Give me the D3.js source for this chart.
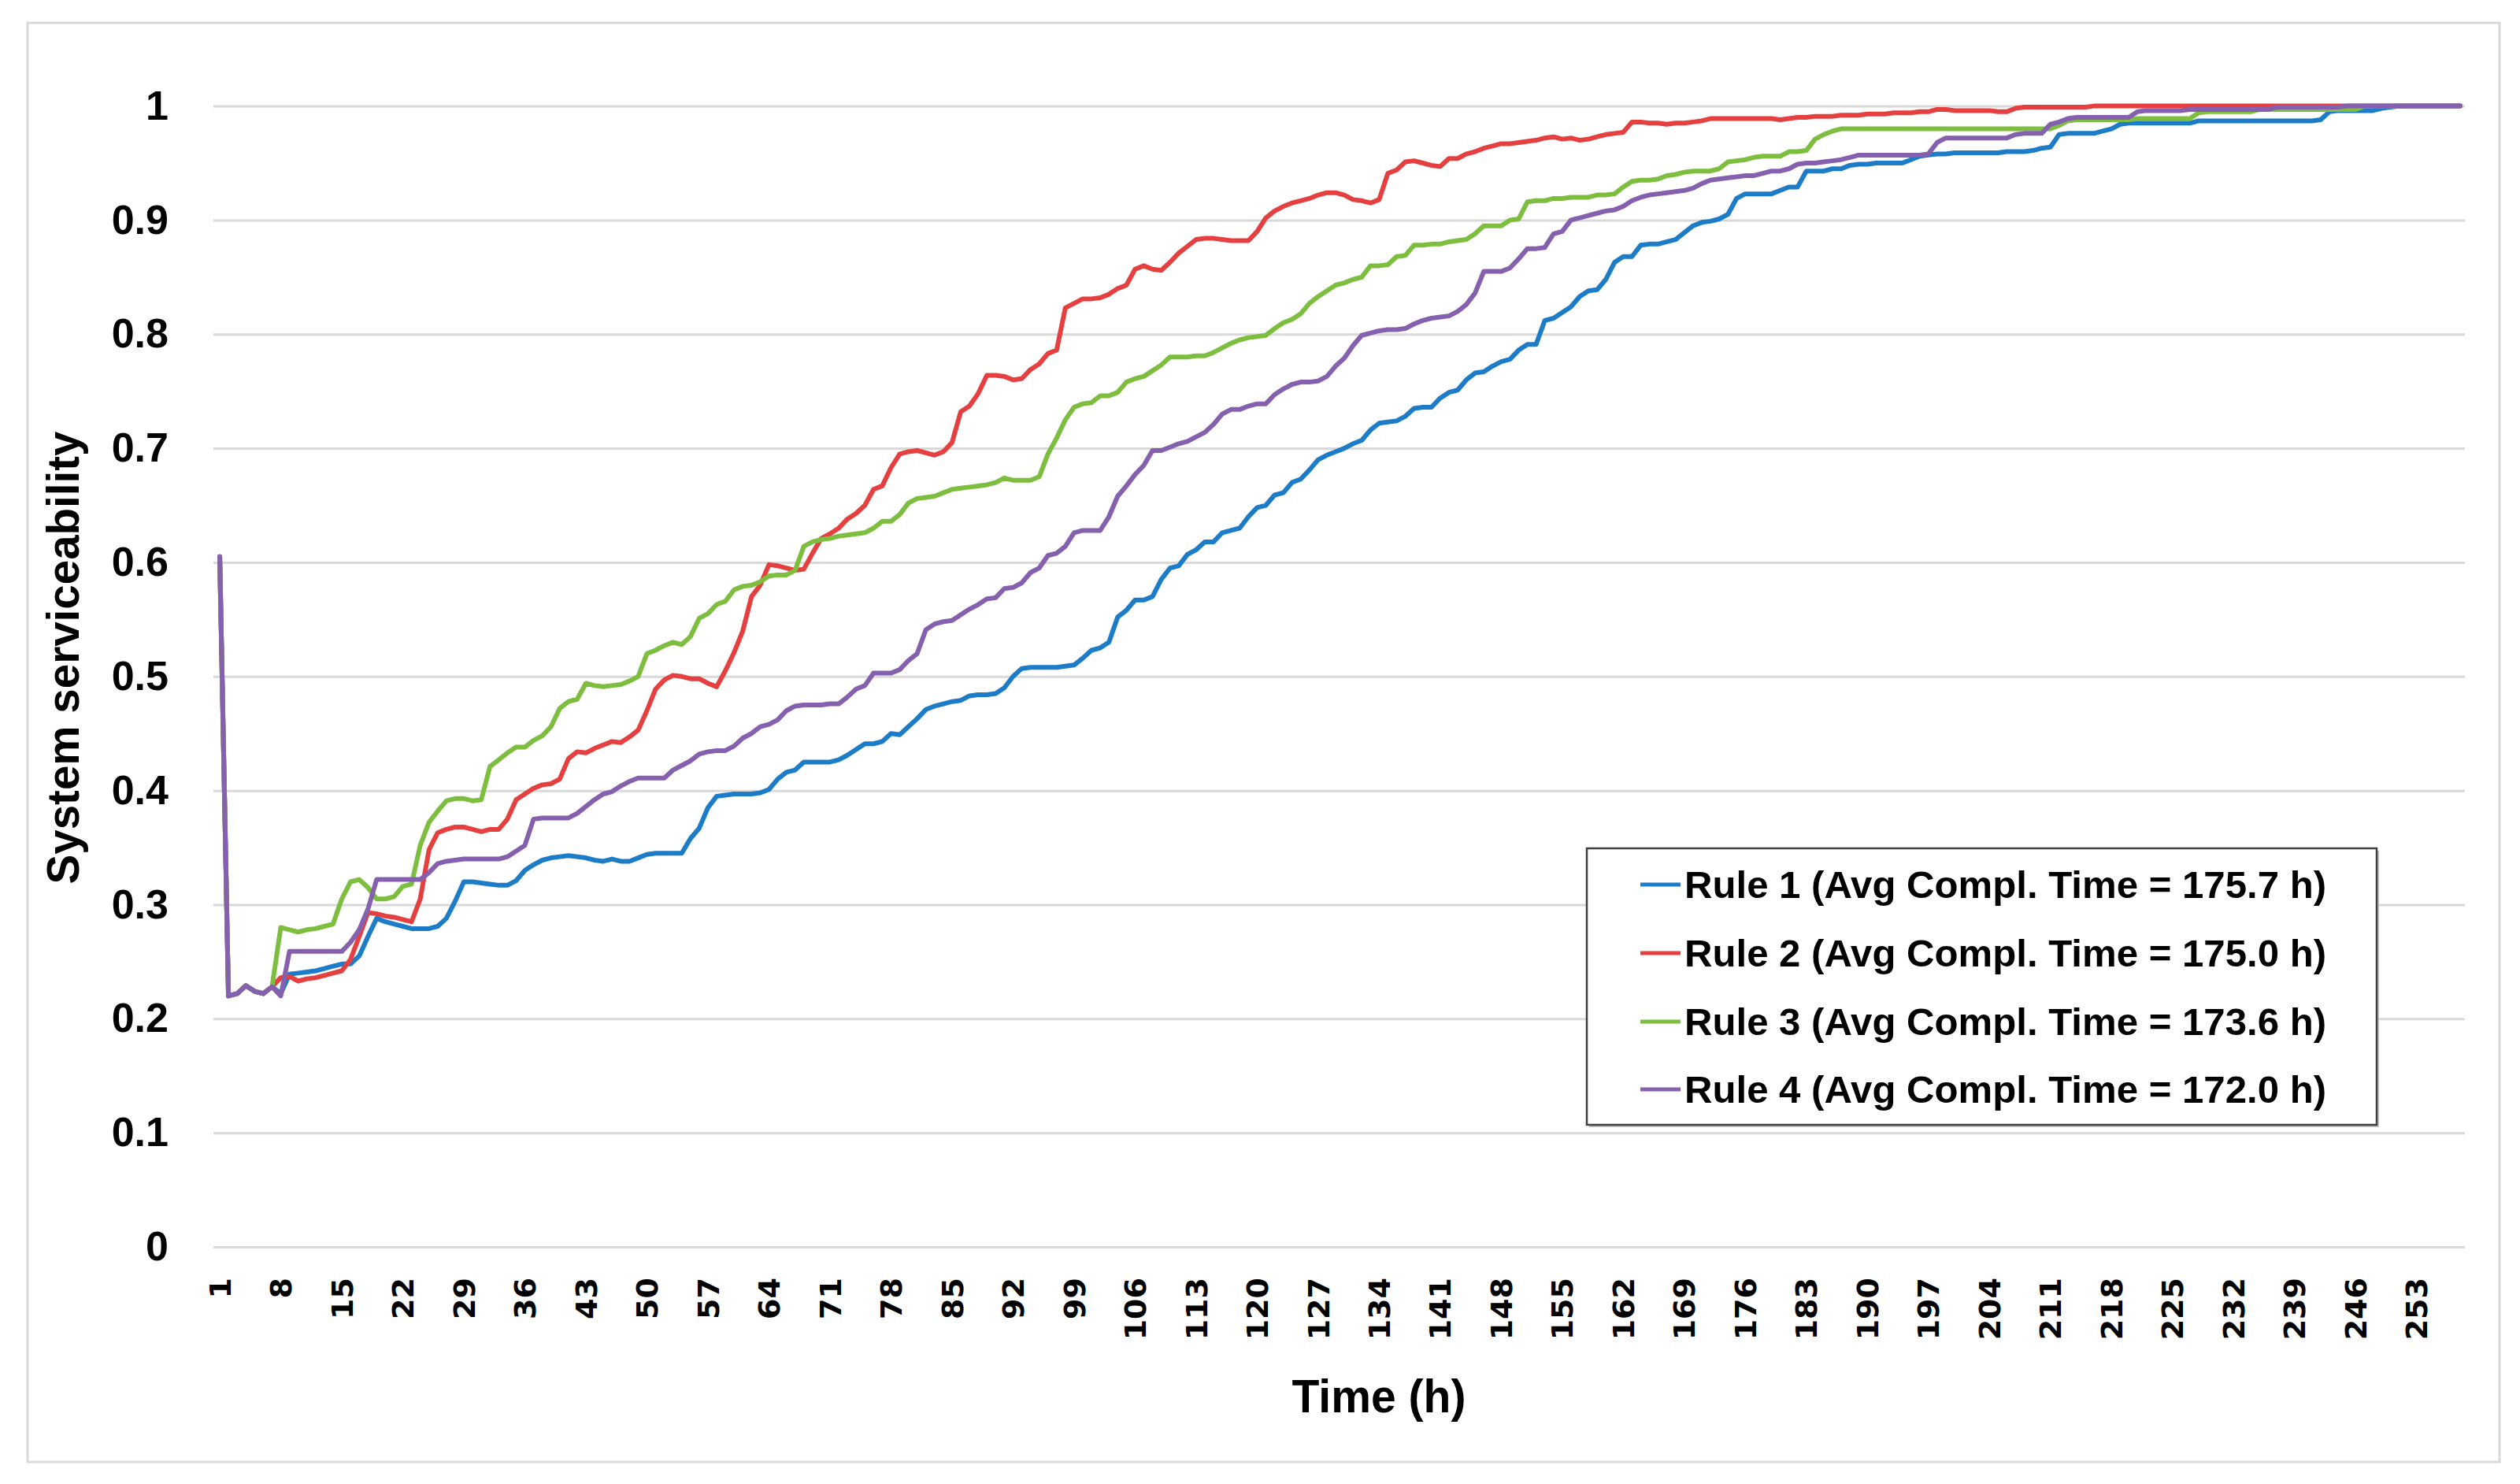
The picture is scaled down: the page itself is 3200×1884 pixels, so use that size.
<!DOCTYPE html>
<html><head><meta charset="utf-8">
<script src="https://cdn.jsdelivr.net/npm/d3@7"></script>
<style>html,body{margin:0;padding:0;background:#fff;} svg{display:block;}</style>
</head><body>
<svg id="chart" width="3200" height="1884"></svg>
<script>
// ---------------- DATA ----------------
const categories = d3.range(1, 259); // time steps 1..258 (h)
const xTickLabels = [1,8,15,22,29,36,43,50,57,64,71,78,85,92,99,106,113,120,127,134,141,148,155,162,169,176,183,190,197,204,211,218,225,232,239,246,253];
const yTickValues = [0,0.1,0.2,0.3,0.4,0.5,0.6,0.7,0.8,0.9,1];
const yTickLabels = ["0","0.1","0.2","0.3","0.4","0.5","0.6","0.7","0.8","0.9","1"];
const seriesNames = [
  "Rule 1 (Avg Compl. Time = 175.7 h)",
  "Rule 2 (Avg Compl. Time = 175.0 h)",
  "Rule 3 (Avg Compl. Time = 173.6 h)",
  "Rule 4 (Avg Compl. Time = 172.0 h)"
];
const rule1 = [
0.605,0.220,0.222,0.229,0.224,0.222,0.228,0.222,0.239,0.240,
0.241,0.242,0.244,0.246,0.248,0.248,0.255,0.272,0.288,0.285,
0.283,0.281,0.279,0.279,0.279,0.281,0.288,0.303,0.320,0.320,
0.319,0.318,0.317,0.317,0.321,0.330,0.335,0.339,0.341,0.342,
0.343,0.342,0.341,0.339,0.338,0.340,0.338,0.338,0.341,0.344,
0.345,0.345,0.345,0.345,0.358,0.367,0.385,0.395,0.396,0.397,
0.397,0.397,0.398,0.401,0.410,0.416,0.418,0.425,0.425,0.425,
0.425,0.427,0.431,0.436,0.441,0.441,0.443,0.450,0.449,0.456,
0.463,0.471,0.474,0.476,0.478,0.479,0.483,0.484,0.484,0.485,
0.490,0.500,0.507,0.508,0.508,0.508,0.508,0.509,0.510,0.516,
0.523,0.525,0.530,0.552,0.558,0.567,0.567,0.570,0.585,0.595,
0.597,0.607,0.611,0.618,0.618,0.626,0.628,0.630,0.640,0.648,
0.650,0.659,0.661,0.670,0.673,0.681,0.690,0.694,0.697,0.700,
0.704,0.707,0.716,0.722,0.723,0.724,0.728,0.735,0.736,0.736,
0.744,0.749,0.751,0.760,0.766,0.767,0.772,0.776,0.778,0.786,
0.791,0.791,0.812,0.814,0.819,0.824,0.833,0.838,0.839,0.848,
0.863,0.868,0.868,0.878,0.879,0.879,0.881,0.883,0.889,0.895,
0.898,0.899,0.901,0.905,0.919,0.923,0.923,0.923,0.923,0.926,
0.929,0.929,0.943,0.943,0.943,0.945,0.945,0.948,0.949,0.949,
0.950,0.950,0.950,0.950,0.953,0.956,0.957,0.958,0.958,0.959,
0.959,0.959,0.959,0.959,0.959,0.960,0.960,0.960,0.961,0.963,
0.964,0.975,0.976,0.976,0.976,0.976,0.978,0.980,0.984,0.985,
0.985,0.985,0.985,0.985,0.985,0.985,0.985,0.987,0.987,0.987,
0.987,0.987,0.987,0.987,0.987,0.987,0.987,0.987,0.987,0.987,
0.987,0.988,0.995,0.996,0.996,0.996,0.996,0.996,0.998,0.999,
1,1,1,1,1,1,1,1
];
const rule2 = [
0.605,0.220,0.222,0.229,0.224,0.222,0.228,0.236,0.237,0.233,
0.235,0.236,0.238,0.240,0.242,0.252,0.272,0.293,0.292,0.290,
0.289,0.287,0.285,0.305,0.348,0.363,0.366,0.368,0.368,0.366,
0.364,0.366,0.366,0.375,0.392,0.397,0.402,0.405,0.406,0.410,
0.428,0.434,0.433,0.437,0.440,0.443,0.442,0.447,0.453,0.470,
0.489,0.497,0.501,0.500,0.498,0.498,0.494,0.491,0.505,0.521,
0.540,0.570,0.580,0.598,0.597,0.595,0.593,0.594,0.608,0.621,
0.625,0.630,0.638,0.643,0.650,0.664,0.667,0.683,0.695,0.697,
0.698,0.696,0.694,0.697,0.705,0.732,0.737,0.748,0.764,0.764,
0.763,0.760,0.761,0.769,0.774,0.783,0.786,0.823,0.827,0.831,
0.831,0.832,0.835,0.840,0.843,0.857,0.860,0.857,0.856,0.863,
0.871,0.877,0.883,0.884,0.884,0.883,0.882,0.882,0.882,0.890,
0.902,0.908,0.912,0.915,0.917,0.919,0.922,0.924,0.924,0.922,
0.918,0.917,0.915,0.918,0.941,0.944,0.951,0.952,0.950,0.948,
0.947,0.954,0.954,0.958,0.960,0.963,0.965,0.967,0.967,0.968,
0.969,0.970,0.972,0.973,0.971,0.972,0.970,0.971,0.973,0.975,
0.976,0.977,0.986,0.986,0.985,0.985,0.984,0.985,0.985,0.986,
0.987,0.989,0.989,0.989,0.989,0.989,0.989,0.989,0.989,0.988,
0.989,0.990,0.990,0.991,0.991,0.991,0.992,0.992,0.992,0.993,
0.993,0.993,0.994,0.994,0.994,0.995,0.995,0.997,0.997,0.996,
0.996,0.996,0.996,0.996,0.995,0.995,0.998,0.999,0.999,0.999,
0.999,0.999,0.999,0.999,0.999,1,1,1,1,1,
1,1,1,1,1,1,1,1,1,1,
1,1,1,1,1,1,1,1,1,1,
1,1,1,1,1,1,1,1,1,1,
1,1,1,1,1,1,1,1
];
const rule3 = [
0.605,0.220,0.222,0.229,0.224,0.222,0.228,0.280,0.278,0.276,
0.278,0.279,0.281,0.283,0.305,0.320,0.322,0.315,0.305,0.305,
0.307,0.316,0.318,0.352,0.372,0.382,0.391,0.393,0.393,0.391,
0.392,0.421,0.427,0.433,0.438,0.438,0.444,0.448,0.456,0.472,
0.478,0.480,0.494,0.492,0.491,0.492,0.493,0.496,0.500,0.520,
0.523,0.527,0.530,0.528,0.535,0.551,0.555,0.563,0.566,0.576,
0.579,0.580,0.583,0.588,0.589,0.589,0.593,0.614,0.618,0.620,
0.621,0.623,0.624,0.625,0.626,0.630,0.636,0.636,0.642,0.652,
0.656,0.657,0.658,0.661,0.664,0.665,0.666,0.667,0.668,0.670,
0.674,0.672,0.672,0.672,0.675,0.695,0.709,0.725,0.736,0.739,
0.740,0.746,0.746,0.749,0.758,0.761,0.763,0.768,0.773,0.780,
0.780,0.780,0.781,0.781,0.784,0.788,0.792,0.795,0.797,0.798,
0.799,0.805,0.810,0.813,0.818,0.827,0.833,0.838,0.843,0.845,
0.848,0.850,0.860,0.860,0.861,0.868,0.869,0.878,0.878,0.879,
0.879,0.881,0.882,0.883,0.888,0.895,0.895,0.895,0.900,0.901,
0.916,0.917,0.917,0.919,0.919,0.920,0.920,0.920,0.922,0.922,
0.923,0.929,0.934,0.935,0.935,0.936,0.939,0.940,0.942,0.943,
0.943,0.943,0.945,0.951,0.952,0.953,0.955,0.956,0.956,0.956,
0.960,0.960,0.961,0.971,0.975,0.978,0.980,0.980,0.980,0.980,
0.980,0.980,0.980,0.980,0.980,0.980,0.980,0.980,0.980,0.980,
0.980,0.980,0.980,0.980,0.980,0.980,0.980,0.980,0.980,0.980,
0.980,0.983,0.987,0.988,0.988,0.988,0.988,0.988,0.988,0.988,
0.989,0.989,0.989,0.989,0.989,0.989,0.989,0.994,0.995,0.995,
0.995,0.995,0.995,0.995,0.997,0.997,0.997,0.997,0.997,0.997,
0.997,0.997,0.997,0.997,0.997,0.997,1,1,1,1,
1,1,1,1,1,1,1,1
];
const rule4 = [
0.605,0.220,0.222,0.229,0.224,0.222,0.228,0.220,0.259,0.259,
0.259,0.259,0.259,0.259,0.259,0.267,0.278,0.296,0.322,0.322,
0.322,0.322,0.322,0.322,0.328,0.336,0.338,0.339,0.340,0.340,
0.340,0.340,0.340,0.342,0.347,0.352,0.375,0.376,0.376,0.376,
0.376,0.380,0.386,0.392,0.397,0.399,0.404,0.408,0.411,0.411,
0.411,0.411,0.418,0.422,0.426,0.432,0.434,0.435,0.435,0.439,
0.446,0.450,0.456,0.458,0.462,0.470,0.474,0.475,0.475,0.475,
0.476,0.476,0.482,0.489,0.492,0.503,0.503,0.503,0.506,0.514,
0.520,0.541,0.546,0.548,0.549,0.554,0.559,0.563,0.568,0.569,
0.577,0.578,0.582,0.591,0.595,0.606,0.608,0.614,0.626,0.628,
0.628,0.628,0.640,0.658,0.667,0.677,0.685,0.698,0.698,0.701,
0.704,0.706,0.710,0.714,0.721,0.730,0.734,0.734,0.737,0.739,
0.739,0.747,0.752,0.756,0.758,0.758,0.759,0.763,0.772,0.779,
0.790,0.799,0.801,0.803,0.804,0.804,0.805,0.809,0.812,0.814,
0.815,0.816,0.820,0.826,0.836,0.855,0.855,0.855,0.858,0.866,
0.875,0.875,0.876,0.888,0.890,0.900,0.902,0.904,0.906,0.908,
0.909,0.912,0.917,0.920,0.922,0.923,0.924,0.925,0.926,0.928,
0.932,0.935,0.936,0.937,0.938,0.939,0.939,0.941,0.943,0.943,
0.945,0.949,0.950,0.950,0.951,0.952,0.953,0.955,0.957,0.957,
0.957,0.957,0.957,0.957,0.957,0.957,0.958,0.968,0.972,0.972,
0.972,0.972,0.972,0.972,0.972,0.972,0.975,0.976,0.976,0.976,
0.984,0.986,0.989,0.990,0.990,0.990,0.990,0.990,0.990,0.990,
0.995,0.996,0.996,0.996,0.996,0.996,0.997,0.997,0.997,0.997,
0.997,0.997,0.997,0.997,0.997,0.997,0.999,0.999,0.999,0.999,
0.999,0.999,0.999,0.999,1,1,1,1,1,1,
1,1,1,1,1,1,1,1
];
const seriesValues = [rule1, rule2, rule3, rule4];
const seriesColors = ["#1C7CC7", "#E5403F", "#7DBE3F", "#8560AE"];

// ---------------- LAYOUT ----------------
const svg = d3.select("#chart");
const plot = {left: 273.5, right: 3129.5, top: 134.6, bottom: 1583};
const gridX0 = 271, gridX1 = 3130;
const FONT = "'Liberation Sans', Arial, sans-serif";

svg.append("rect").attr("x", 0).attr("y", 0).attr("width", 3200).attr("height", 1884).attr("fill", "#fff");
svg.append("rect").attr("x", 35).attr("y", 29).attr("width", 3139).attr("height", 1827)
  .attr("fill", "#fff").attr("stroke", "#d9d9d9").attr("stroke-width", 3);

const x = d3.scaleBand().domain(categories).range([plot.left, plot.right]).padding(0);
const cx = c => x(c) + x.bandwidth() / 2;
const y = d3.scaleLinear().domain([0, 1]).range([plot.bottom, plot.top]);

// Y axis + gridlines
const yAxisG = svg.append("g").attr("transform", `translate(${gridX0},0)`)
  .call(d3.axisLeft(y).tickValues(yTickValues).tickFormat((d, i) => yTickLabels[i])
    .tickSize(-(gridX1 - gridX0)).tickPadding(57));
yAxisG.select(".domain").remove();
yAxisG.selectAll(".tick line").attr("stroke", "#d9d9d9").attr("stroke-width", 3);
yAxisG.selectAll(".tick text").attr("font-family", FONT).attr("font-weight", "bold")
  .attr("font-size", 52).attr("fill", "#000");

// X axis
const xAxisG = svg.append("g").attr("transform", `translate(0,${plot.bottom})`)
  .call(d3.axisBottom(x).tickValues(xTickLabels).tickSize(0));
xAxisG.select(".domain").remove();
xAxisG.selectAll(".tick text")
  .attr("font-family", "'DejaVu Sans', Verdana, sans-serif").attr("font-weight", "bold")
  .attr("font-size", 38).attr("fill", "#000")
  .attr("transform", "rotate(-90)").attr("x", -39).attr("y", 0).attr("dy", "0.36em")
  .attr("text-anchor", "end");

// Axis titles
svg.append("text").attr("x", 1751).attr("y", 1793).attr("text-anchor", "middle")
  .attr("font-family", FONT).attr("font-weight", "bold").attr("font-size", 60)
  .attr("textLength", 221).attr("lengthAdjust", "spacingAndGlyphs").text("Time (h)");
svg.append("text").attr("transform", "translate(100,835) rotate(-90)").attr("text-anchor", "middle")
  .attr("font-family", FONT).attr("font-weight", "bold").attr("font-size", 57)
  .attr("textLength", 575).attr("lengthAdjust", "spacingAndGlyphs").text("System serviceability");

// Lines
const line = d3.line().x(d => cx(d.c)).y(d => y(d.v));
seriesValues.forEach((vals, i) => {
  const data = categories.map((c, k) => ({c: c, v: vals[k]}));
  svg.append("path").datum(data).attr("d", line).attr("fill", "none")
    .attr("stroke", seriesColors[i]).attr("stroke-width", 6)
    .attr("stroke-linejoin", "round").attr("stroke-linecap", "round");
});

// Legend
const lg = svg.append("g");
lg.append("rect").attr("x", 2018).attr("y", 1080).attr("width", 1003).attr("height", 351).attr("fill", "#bfbfbf");
lg.append("rect").attr("x", 2015).attr("y", 1077).attr("width", 1003).attr("height", 351)
  .attr("fill", "#fff").attr("stroke", "#404040").attr("stroke-width", 2.5);
const rowY = [1123, 1210, 1297, 1383];
seriesNames.forEach((name, i) => {
  lg.append("line").attr("x1", 2083).attr("x2", 2134).attr("y1", rowY[i]).attr("y2", rowY[i])
    .attr("stroke", seriesColors[i]).attr("stroke-width", 5);
  lg.append("text").attr("x", 2139).attr("y", rowY[i]).attr("dy", "0.35em")
    .attr("font-family", FONT).attr("font-weight", "bold").attr("font-size", 48)
    .attr("textLength", 815).attr("lengthAdjust", "spacingAndGlyphs").text(name);
});
</script>
</body></html>
